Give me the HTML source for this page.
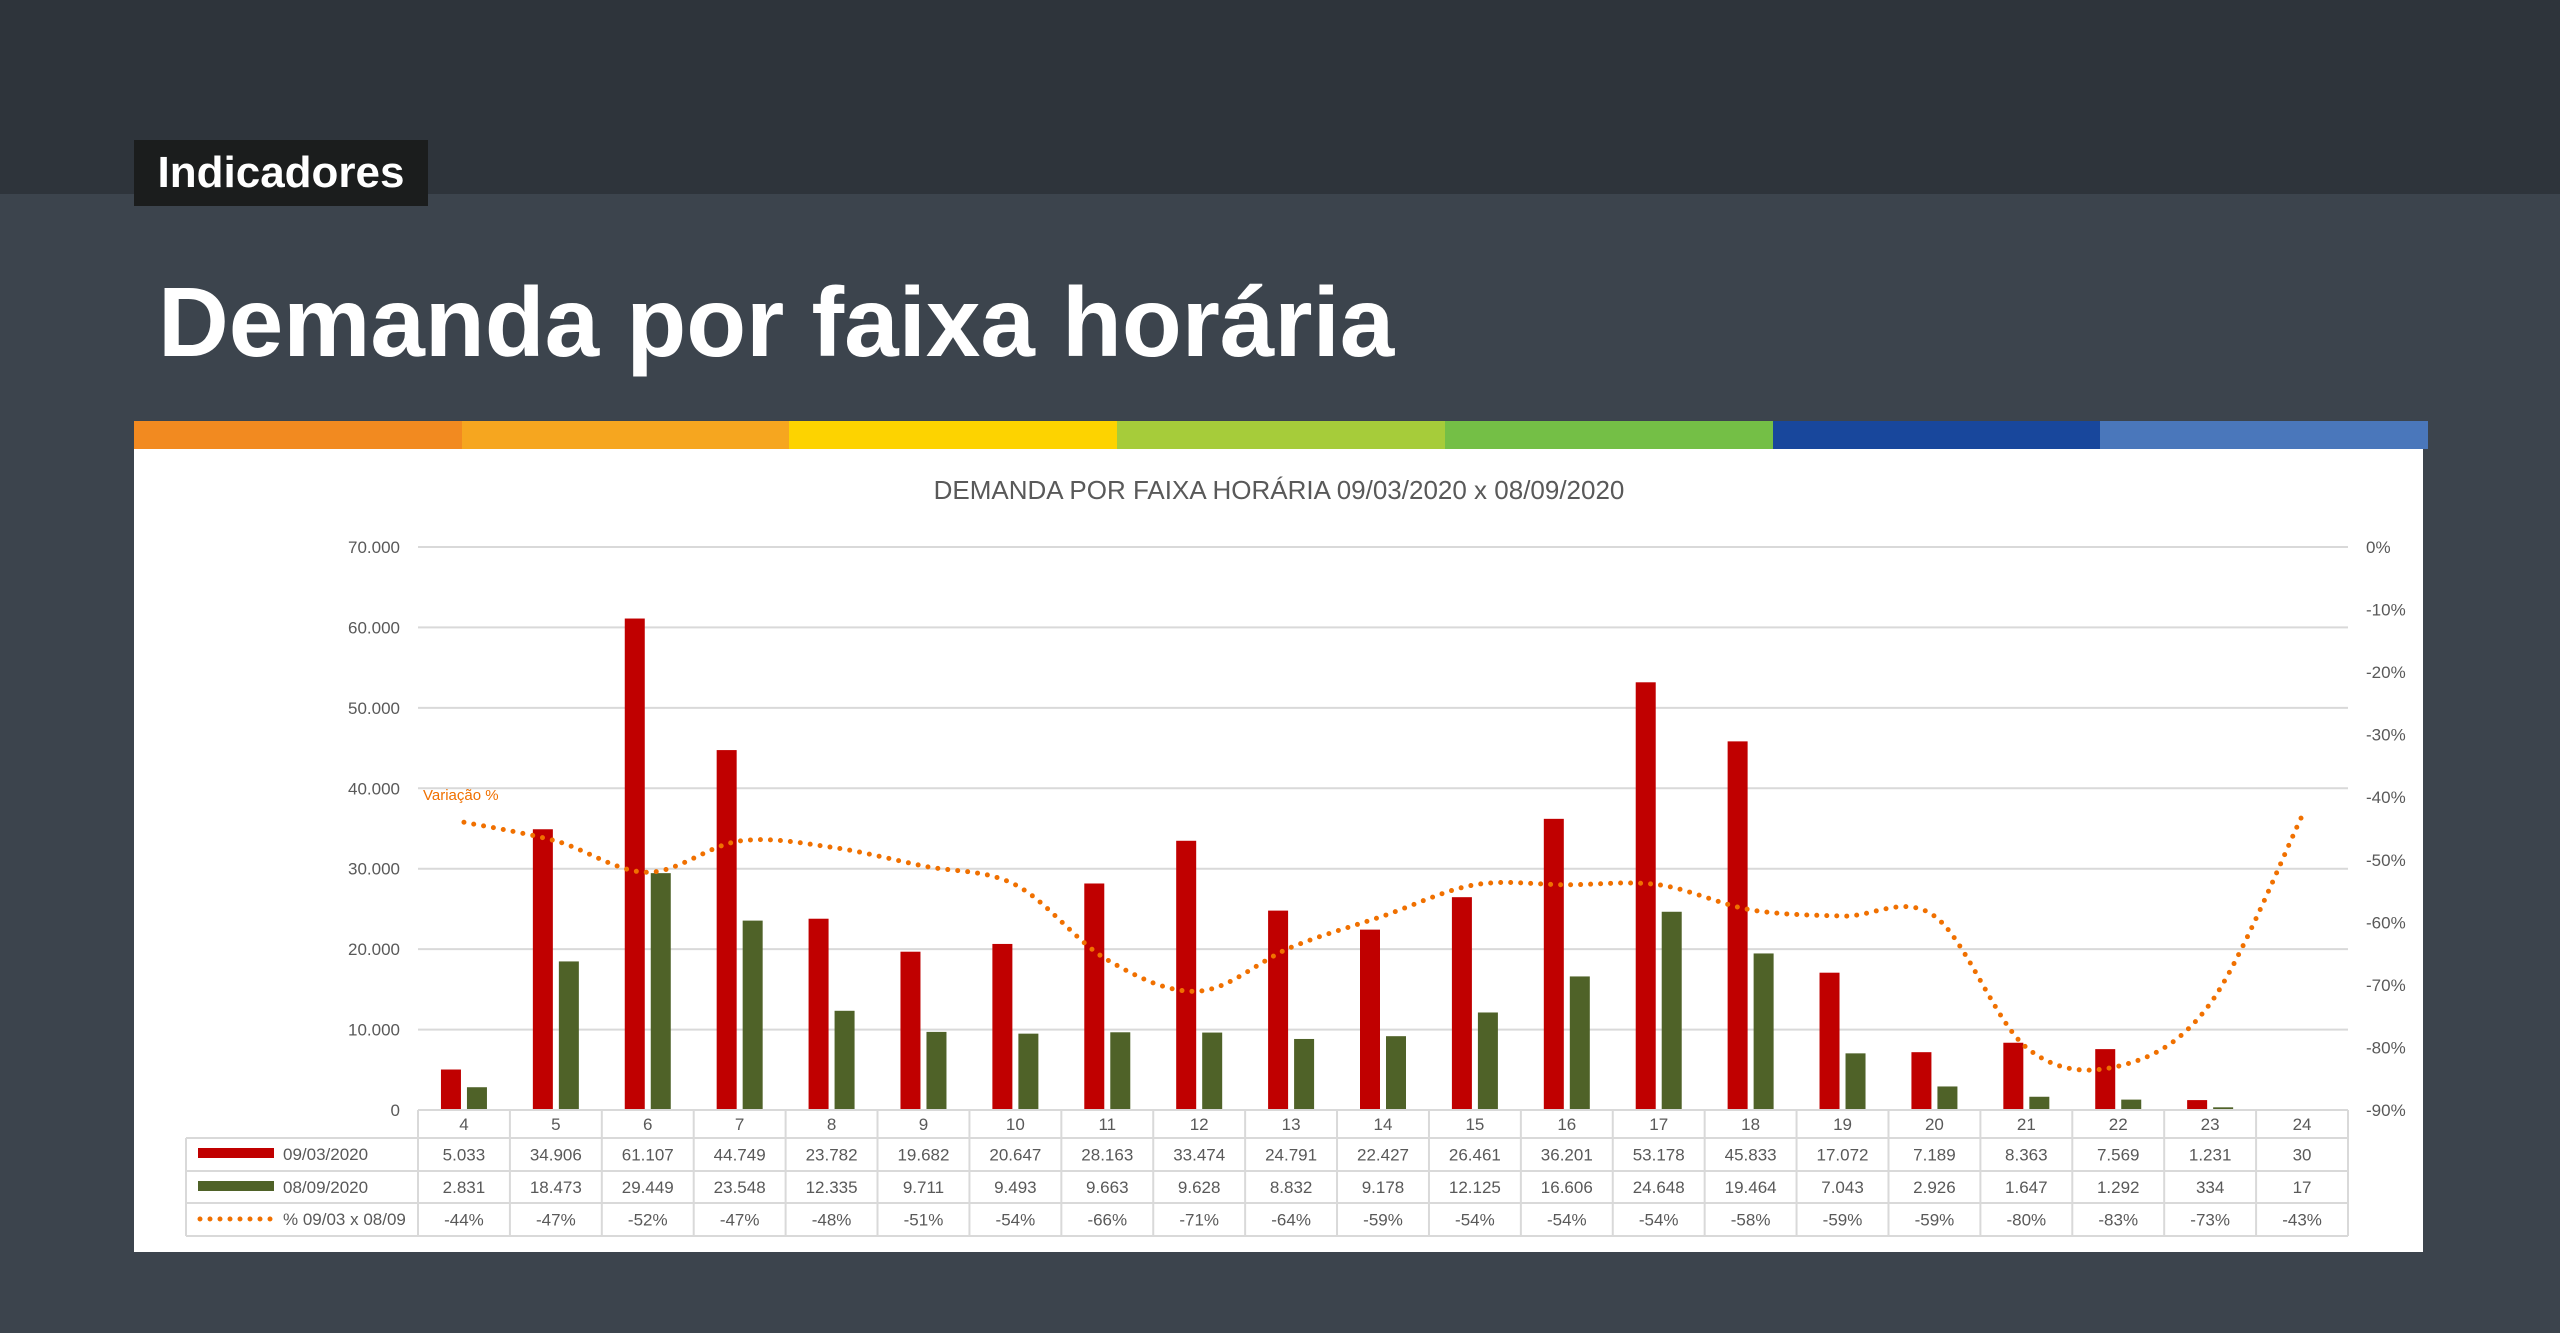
<!DOCTYPE html>
<html><head><meta charset="utf-8"><style>
body{margin:0;width:2560px;height:1333px;background:#3c444d;overflow:hidden;font-family:"Liberation Sans",sans-serif}
#top{position:absolute;left:0;top:0;width:2560px;height:194px;background:#2e343b}
#tag{position:absolute;left:134px;top:140px;width:294px;height:66px;background:#1b1d1d;color:#fff;font-weight:bold;font-size:44px;line-height:66px;text-align:center}
#title{position:absolute;left:158px;top:262px;color:#fff;font-weight:bold;font-size:98px;line-height:120px}
#bar{position:absolute;left:134px;top:421px;width:2294px;height:28px;display:flex}
#bar div{flex:1}
#panel{position:absolute;left:134px;top:449px;width:2289px;height:803px;background:#fff}
</style></head><body>
<div id="top"></div>
<div id="tag">Indicadores</div>
<div id="title">Demanda por faixa horária</div>
<div id="bar"><div style="background:#f28a20"></div><div style="background:#f6a61f"></div><div style="background:#fdd300"></div><div style="background:#a6cc3a"></div><div style="background:#74bf46"></div><div style="background:#18479c"></div><div style="background:#4a77bb"></div></div>
<div id="panel"></div>
<svg id="chart" width="2560" height="1333" style="position:absolute;left:0;top:0"></svg>
<script>
const categories=["4","5","6","7","8","9","10","11","12","13","14","15","16","17","18","19","20","21","22","23","24"];
const seriesMar=[5033,34906,61107,44749,23782,19682,20647,28163,33474,24791,22427,26461,36201,53178,45833,17072,7189,8363,7569,1231,30];
const seriesSep=[2831,18473,29449,23548,12335,9711,9493,9663,9628,8832,9178,12125,16606,24648,19464,7043,2926,1647,1292,334,17];
const pctVar=[-44,-47,-52,-47,-48,-51,-54,-66,-71,-64,-59,-54,-54,-54,-58,-59,-59,-80,-83,-73,-43];
const leftTicks=[0,10000,20000,30000,40000,50000,60000,70000];
const rightTicks=[0,-10,-20,-30,-40,-50,-60,-70,-80,-90];
const NS="http://www.w3.org/2000/svg";
const svg=document.getElementById('chart');
const X0=418,X1=2348,Y0=1110,Y1=547;
const cw=(X1-X0)/categories.length;
const cx=i=>X0+cw*(i+0.5);
const yL=v=>Y0-(v/70000)*(Y0-Y1);
const yR=p=>Y1+(-p/90)*(Y0-Y1);
const fmt=v=>v.toLocaleString('de-DE');
function el(t,a,txt){const e=document.createElementNS(NS,t);for(const k in a)e.setAttribute(k,a[k]);if(txt!==undefined)e.textContent=txt;svg.appendChild(e);return e;}
let e=el('text',{x:1279,y:499,'text-anchor':'middle','font-size':26,fill:'#595959'},'DEMANDA POR FAIXA HORÁRIA 09/03/2020 x 08/09/2020');


leftTicks.forEach(v=>{
 let g=el('line',{x1:X0,x2:X1,y1:yL(v),y2:yL(v),stroke:'#d9d9d9','stroke-width':2});
 
 
 let t=el('text',{x:400,y:yL(v)+6,'text-anchor':'end','font-size':17,fill:'#595959'},fmt(v));
 
 
});
rightTicks.forEach(p=>{
 let t=el('text',{x:2366,y:yR(p)+6,'font-size':17,fill:'#595959'},p+'%');
 
 
});
categories.forEach((c,i)=>{
 let r=el('rect',{x:cx(i)-23,y:yL(seriesMar[i]),width:20,height:Y0-yL(seriesMar[i]),fill:'#c00000'});
 
 
 let g=el('rect',{x:cx(i)+3,y:yL(seriesSep[i]),width:20,height:Y0-yL(seriesSep[i]),fill:'#4f6228'});
 
 
});
// smooth line
const pts=pctVar.map((p,i)=>[cx(i),yR(p)]);
let d='M'+pts[0][0]+','+pts[0][1];
for(let i=0;i<pts.length-1;i++){
 const p0=pts[Math.max(0,i-1)],p1=pts[i],p2=pts[i+1],p3=pts[Math.min(pts.length-1,i+2)];
 const c1=[p1[0]+(p2[0]-p0[0])/6,p1[1]+(p2[1]-p0[1])/6],c2=[p2[0]-(p3[0]-p1[0])/6,p2[1]-(p3[1]-p1[1])/6];
 d+=` C${c1[0]},${c1[1]} ${c2[0]},${c2[1]} ${p2[0]},${p2[1]}`;
}
let ln=el('path',{d:d,fill:'none',stroke:'#f07000','stroke-width':5,'stroke-linecap':'round','stroke-dasharray':'0 10'});


let lb=el('text',{x:423,y:800,'font-size':15,fill:'#f07000'},'Variação %');


// table
const rows=[1110,1138,1171,1203,1236];
const TL=186;
[[0],[1],[2],[3],[4]].forEach(([k])=>{
 const x1=k===0?X0:TL;
 let l=el('line',{x1:x1,x2:X1,y1:rows[k],y2:rows[k],stroke:'#d9d9d9','stroke-width':2});
 
 
});
for(let i=0;i<=categories.length;i++){
 let l=el('line',{x1:X0+cw*i,x2:X0+cw*i,y1:rows[0],y2:rows[4],stroke:'#d9d9d9','stroke-width':2});
 
 
}
let lv=el('line',{x1:TL,x2:TL,y1:rows[1],y2:rows[4],stroke:'#d9d9d9','stroke-width':2});


const rowVals=[categories,seriesMar.map(fmt),seriesSep.map(fmt),pctVar.map(p=>p+'%')];
rowVals.forEach((arr,k)=>{
 arr.forEach((v,i)=>{
  let t=el('text',{x:cx(i),y:(rows[k]+rows[k+1])/2+6,'text-anchor':'middle','font-size':17,fill:'#595959'},v);
  
  
 });
});
let k1=el('rect',{x:198,y:1148,width:76,height:10,fill:'#c00000'});


let k2=el('rect',{x:198,y:1181,width:76,height:10,fill:'#4f6228'});


let k3=el('line',{x1:200,x2:272,y1:1219,y2:1219,stroke:'#f07000','stroke-width':5,'stroke-linecap':'round','stroke-dasharray':'0 10'});


[['09/03/2020',1160],['08/09/2020',1193],['% 09/03 x  08/09',1225]].forEach(([s,y])=>{
 let t=el('text',{x:283,y:y,'font-size':17,fill:'#595959'},s);
 
 
});
</script>
</body></html>
